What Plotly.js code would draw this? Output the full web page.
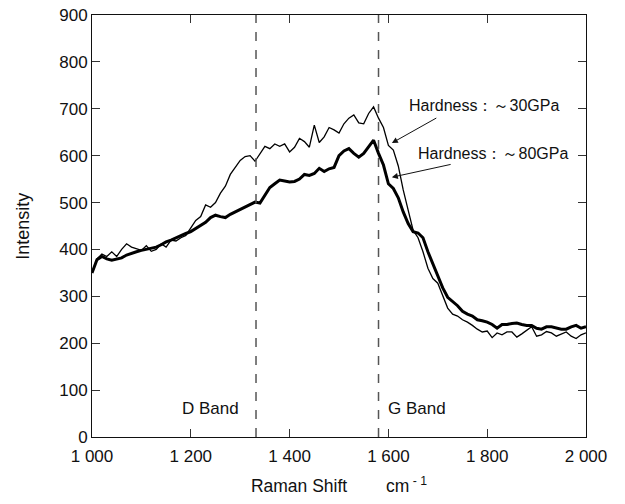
<!DOCTYPE html>
<html>
<head>
<meta charset="utf-8">
<script src="https://cdn.plot.ly/plotly-3.0.1.min.js"></script>
<style>html,body{margin:0;padding:0;background:#fff;}#chart{width:625px;height:504px;}</style>
</head>
<body>
<div id="chart"></div>
<script>
const ramanShift = [];
for (let i = 0; i <= 100; i++) ramanShift.push(1000 + i * 10);

const hardness30 = [350,380,390,385,395,385,400,412,405,402,
  398,408,396,400,412,405,420,418,425,430,
  445,462,470,495,490,500,520,535,560,575,
  590,598,600,588,605,620,615,625,620,625,
  608,618,637,630,618,665,628,640,660,655,
  648,668,680,687,670,668,690,704,680,660,
  622,612,578,527,484,441,425,395,360,338,
  328,300,275,262,258,250,245,238,230,224,
  226,212,222,218,224,224,213,220,228,235,
  215,218,225,222,215,220,224,215,210,218,222];

const hardness80 = [350,378,385,380,377,380,382,388,392,395,
  398,400,403,405,410,416,420,425,430,434,
  438,445,452,458,468,473,470,468,475,480,
  485,490,495,501,499,515,532,540,548,546,
  544,545,550,560,558,562,573,566,572,575,
  600,610,615,605,597,605,620,633,605,580,
  540,530,510,480,455,438,435,425,395,370,
  342,318,298,290,280,268,262,258,250,248,
  245,240,232,240,240,242,243,240,238,238,
  232,230,235,235,232,230,230,235,238,232,235];

const xTickVals = [1000,1200,1400,1600,1800,2000];
const xTickText = ['1 000','1 200','1 400','1 600','1 800','2 000'];
const yTickVals = [0,100,200,300,400,500,600,700,800,900];
const bandPositions = [1332, 1580];
const bandLabels = ['D Band', 'G Band'];
const bandLabelX = [1239, 1658];
const seriesLabels = ['Hardness：～30GPa', 'Hardness：～80GPa'];
const yTitle = 'Intensity';

const traces = [
  {x: ramanShift, y: hardness30, type: 'scatter', mode: 'lines', line: {color: '#000', width: 1.3}, showlegend: false},
  {x: ramanShift, y: hardness80, type: 'scatter', mode: 'lines', line: {color: '#000', width: 3}, showlegend: false}
];

const shapes = bandPositions.map(p => ({
  type: 'line', xref: 'x', yref: 'paper', x0: p, x1: p, y0: 0, y1: 1,
  line: {color: '#555', width: 1.5, dash: 'dash'}
}));

const font = {family: 'Liberation Sans, Arial, sans-serif', size: 17, color: '#111'};

const annotations = [
  {x: bandLabelX[0], y: 60, xref: 'x', yref: 'y', text: bandLabels[0], showarrow: false, font: font},
  {x: bandLabelX[1], y: 60, xref: 'x', yref: 'y', text: bandLabels[1], showarrow: false, font: font},
  {x: 1793, y: 706, xref: 'x', yref: 'y', text: seriesLabels[0], showarrow: false, font: {family: font.family, size: 16, color: '#111'}},
  {x: 1812, y: 605, xref: 'x', yref: 'y', text: seriesLabels[1], showarrow: false, font: {family: font.family, size: 16, color: '#111'}},
  {x: 1607, y: 627, xref: 'x', yref: 'y', ax: 1700, ay: 682, axref: 'x', ayref: 'y', text: '', showarrow: true, arrowhead: 2, arrowsize: 1.2, arrowwidth: 1, arrowcolor: '#111'},
  {x: 1607, y: 554, xref: 'x', yref: 'y', ax: 1729, ay: 582, axref: 'x', ayref: 'y', text: '', showarrow: true, arrowhead: 2, arrowsize: 1.2, arrowwidth: 1, arrowcolor: '#111'},
  {x: -0.14, y: 0.5, xref: 'paper', yref: 'paper', text: yTitle, textangle: -90, showarrow: false, xanchor: 'center', yanchor: 'middle', font: {family: font.family, size: 18, color: '#111'}}
];

const layout = {
  width: 625, height: 504,
  margin: {l: 92, r: 39, t: 15, b: 67},
  paper_bgcolor: '#fff', plot_bgcolor: '#fff',
  font: font,
  xaxis: {
    range: [1000, 2000], tickvals: xTickVals, ticktext: xTickText,
    ticks: 'inside', ticklen: 8, tickcolor: '#333', showline: true, linecolor: '#111', linewidth: 1,
    mirror: 'ticks', showgrid: false, zeroline: false, ticklabelstandoff: 4,
    title: {text: 'Raman Shift&nbsp;&nbsp;&nbsp;&nbsp;&nbsp;&nbsp;&nbsp;&nbsp;cm<sup> - 1</sup>', font: {family: font.family, size: 17.5, color: '#111'}, standoff: 14},
    tickfont: font
  },
  yaxis: {
    range: [0, 900], tickvals: yTickVals,
    ticks: 'inside', ticklen: 8, tickcolor: '#333', showline: true, linecolor: '#111', linewidth: 1,
    mirror: 'ticks', showgrid: false, zeroline: false,
    tickfont: font
  },
  shapes: shapes,
  annotations: annotations
};

Plotly.newPlot('chart', traces, layout, {displayModeBar: false, staticPlot: true});
</script>
</body>
</html>
